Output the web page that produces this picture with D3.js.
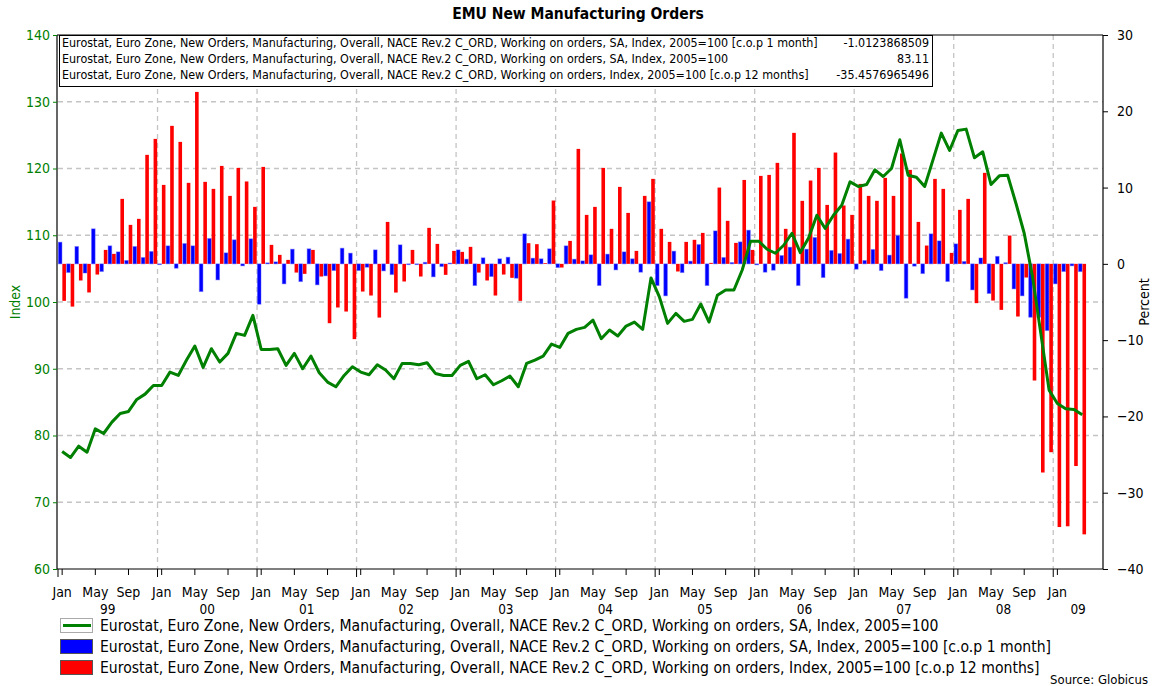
<!DOCTYPE html>
<html>
<head>
<meta charset="utf-8">
<script src="https://cdn.jsdelivr.net/npm/d3@7"></script>
<style>
  body { margin: 0; background: #fff; }
  svg { font-family: "DejaVu Sans Condensed", "DejaVu Sans", sans-serif; }
</style>
</head>
<body>
<svg id="chart" width="1156" height="686"></svg>
<script>
// ---- data (Jan 1999 .. Apr 2009) ----
const monthNames = ["Jan","Feb","Mar","Apr","May","Jun","Jul","Aug","Sep","Oct","Nov","Dec"];
const years = [1999,2000,2001,2002,2003,2004,2005,2006,2007,2008,2009];
const axisMonthCount = 126; // axis runs to Jun 2009
const labelMonths = ["Jan","May","Sep"];

// SA index, 2005=100
const indexSA = [
  77.6, 76.7, 78.4, 77.5, 81.0, 80.3, 82.0, 83.3, 83.6, 85.4, 86.2, 87.5,
  87.5, 89.5, 89.0, 91.3, 93.4, 90.2, 93.0, 91.0, 92.3, 95.3, 95.0, 98.0,
  92.9, 92.9, 93.0, 90.5, 92.3, 90.0, 91.9, 89.4, 88.0, 87.3, 89.0, 90.3,
  89.5, 89.1, 90.6, 89.8, 88.5, 90.8, 90.8, 90.6, 90.9, 89.3, 89.0, 89.0,
  90.5, 91.1, 88.5, 89.1, 87.6, 88.2, 88.9, 87.3, 90.8, 91.3, 91.9, 93.7,
  93.2, 95.3, 95.9, 96.2, 97.3, 94.5, 95.8, 94.9, 96.4, 97.0, 95.9, 103.6,
  100.8, 96.8, 98.3, 97.1, 97.4, 99.7, 97.0, 101.0, 101.8, 101.8, 104.8, 109.1,
  109.1, 107.9, 107.3, 108.5, 110.3, 107.4, 109.6, 113.0, 111.0, 113.0, 114.5, 118.0,
  117.3, 117.6, 119.8, 118.8, 120.0, 124.3, 119.0, 118.7, 117.3, 121.3, 125.3, 122.7,
  125.7, 125.9, 121.6, 122.5, 117.6, 118.9, 119.0, 114.8, 110.3, 103.8, 95.3, 86.8,
  84.8, 84.0, 83.9, 83.11
];

// SA index, change over 1 month (%)
const change1m = [
  2.84, -1.13, 2.27, -1.2, 4.59, -1.0, 2.36, 1.57, 0.44, 2.27, 0.83, 1.62,
  -0.1, 2.36, -0.57, 2.66, 2.36, -3.63, 3.32, -2.1, 1.44, 3.15, -0.26, 3.28,
  -5.29, 0.13, 0.26, -2.62, 1.92, -2.32, 1.97, -2.75, -1.57, -0.87, 2.05, 1.4,
  -0.87, -0.44, 1.83, -0.92, -1.4, 2.49, -0.1, -0.1, 0.2, -1.7, -0.35, 0.1,
  1.83, 0.61, -2.84, 0.79, -1.66, 0.66, 0.87, -1.88, 3.93, 0.74, 0.66, 1.97,
  -0.48, 2.36, 0.61, 0.39, 1.18, -2.84, 1.27, -0.79, 1.57, 0.66, -1.09, 8.13,
  -2.84, -4.19, 1.66, -1.14, 0.35, 2.53, -2.84, 4.32, 0.83, 0.17, 2.88, 4.41,
  -0.13, -1.09, -0.83, 1.09, 2.18, -2.84, 1.92, 3.45, -1.79, 1.75, 1.35, 3.23,
  -0.7, 0.44, 1.88, -0.87, 1.14, 3.71, -4.5, -0.3, -1.27, 3.93, 3.01, -2.31,
  2.62, 0.31, -3.41, 0.77, -3.88, 0.98, 0.15, -3.28, -4.19, -7.0, -7.0, -8.74,
  -2.62, -1.0, -0.26, -1.0123868509
];

// non-SA index, change over 12 months (%)
const change12m = [
  -4.85, -5.6, -2.18, -3.75, -1.4, 1.83, 1.31, 8.52, 5.11, 5.9, 14.29, 16.38,
  10.35, 18.09, 15.99, 10.62, 22.54, 10.75, 9.83, 12.84, 8.91, 12.58, 10.8, 7.47,
  12.71, 2.49, 1.18, 0.52, -1.14, -1.31, 1.83, -1.66, -7.78, -5.72, -6.25, -9.87,
  -3.63, -4.15, -7.04, 5.5, -3.76, -2.31, 1.83, -1.66, 4.72, 2.62, -1.44, 1.7,
  1.57, 2.23, -1.14, -2.18, -4.15, -1.4, -1.83, -4.85, 2.71, 2.58, 0.1, 8.3,
  -0.48, 3.01, 15.07, 6.42, 7.47, 12.58, 4.59, 10.09, 6.68, 1.7, 8.91, 11.14,
  4.59, 2.88, -1.0, 2.88, 3.15, 4.06, 0.13, 10.0, 5.64, 2.75, 11.0, 1.83,
  11.53, 11.66, 13.24, 4.59, 17.17, 8.26, 10.92, 12.58, 7.73, 14.59, 7.65, 6.42,
  10.48, 8.91, 8.26, 11.27, 8.91, 14.46, 12.32, 5.5, 2.4, 11.14, 9.83, 1.44,
  7.08, 8.52, -5.15, 11.93, -4.81, -6.03, 3.71, -6.9, -1.79, -15.29, -27.35, -24.69,
  -34.5, -34.4, -26.5, -35.4576965496
];

const seriesNames = [
  "Eurostat, Euro Zone, New Orders, Manufacturing, Overall, NACE Rev.2 C_ORD, Working on orders, SA, Index, 2005=100",
  "Eurostat, Euro Zone, New Orders, Manufacturing, Overall, NACE Rev.2 C_ORD, Working on orders, SA, Index, 2005=100 [c.o.p 1 month]",
  "Eurostat, Euro Zone, New Orders, Manufacturing, Overall, NACE Rev.2 C_ORD, Working on orders, Index, 2005=100 [c.o.p 12 months]"
];
const lastValues = ["-1.0123868509", "83.11", "-35.4576965496"];
const leftTicks = [60, 70, 80, 90, 100, 110, 120, 130, 140];
const rightTicks = [-40, -30, -20, -10, 0, 10, 20, 30];

const green = "#008000", blue = "#0000ff", red = "#ff0000";

// ---- build month keys ----
const months = [];
years.forEach(y => monthNames.forEach((m, j) => months.push({ key: y + "-" + j, year: y, name: m })));
const axisMonths = months.slice(0, axisMonthCount);
const dataMonths = months.slice(0, indexSA.length);

const svg = d3.select("#chart");
const plotLeft = 58, plotRight = 1103, plotTop = 35, plotBottom = 569;

const x = d3.scaleBand().domain(axisMonths.map(d => d.key)).range([plotLeft, plotRight]);
const cx = k => x(k) + x.bandwidth() / 2;
const yL = d3.scaleLinear().domain([60, 140]).range([plotBottom, plotTop]);
const yR = d3.scaleLinear().domain([-40, 30]).range([plotBottom, plotTop]);

// title
svg.append("text")
  .attr("x", 578).attr("y", 19)
  .attr("text-anchor", "middle")
  .style("font-size", "15.5px").style("font-weight", "bold")
  .text("EMU New Manufacturing Orders");

// grid
const grid = svg.append("g").attr("stroke", "#c4c4c4").attr("stroke-dasharray", "5,4").attr("stroke-width", 1.3);
leftTicks.slice(1, -1).forEach(t => {
  grid.append("line").attr("x1", plotLeft).attr("x2", plotRight).attr("y1", yL(t)).attr("y2", yL(t));
});
axisMonths.filter(d => d.name === "Jan" && d.year > years[0]).forEach(d => {
  grid.append("line").attr("x1", x(d.key)).attr("x2", x(d.key)).attr("y1", plotTop).attr("y2", plotBottom);
});

// bars
const bw = 3.6;
svg.append("g").selectAll("rect")
  .data(dataMonths)
  .join("rect")
  .attr("x", d => cx(d.key) - bw - 0.2)
  .attr("width", bw)
  .attr("y", (d, i) => Math.min(yR(change1m[i]), yR(0)))
  .attr("height", (d, i) => Math.abs(yR(change1m[i]) - yR(0)))
  .attr("fill", blue)
  .attr("stroke", "rgba(90,90,255,0.45)").attr("stroke-width", 1);

svg.append("g").selectAll("rect")
  .data(dataMonths)
  .join("rect")
  .attr("x", d => cx(d.key) + 0.2)
  .attr("width", bw)
  .attr("y", (d, i) => Math.min(yR(change12m[i]), yR(0)))
  .attr("height", (d, i) => Math.abs(yR(change12m[i]) - yR(0)))
  .attr("fill", red);

// line
const line = d3.line()
  .x((d, i) => cx(dataMonths[i].key))
  .y(d => yL(d));
svg.append("path")
  .datum(indexSA)
  .attr("d", line)
  .attr("fill", "none")
  .attr("stroke", green)
  .attr("stroke-width", 3)
  .attr("stroke-linejoin", "round");

// frame / axes
const axisG = svg.append("g").attr("stroke", "#000").attr("stroke-width", 1.2);
axisG.append("line").attr("x1", plotLeft - 1).attr("x2", plotRight).attr("y1", plotTop).attr("y2", plotTop);
axisG.append("line").attr("x1", plotLeft - 1).attr("x2", plotLeft - 1).attr("y1", plotTop).attr("y2", plotBottom);
axisG.append("line").attr("x1", plotRight).attr("x2", plotRight).attr("y1", plotTop).attr("y2", plotBottom);
axisG.append("line").attr("x1", plotLeft - 1).attr("x2", plotRight).attr("y1", plotBottom).attr("y2", plotBottom);

// left axis
const gl = svg.append("g").attr("transform", `translate(${plotLeft - 1},0)`)
  .call(d3.axisLeft(yL).tickValues(leftTicks).tickSize(4).tickPadding(3));
gl.select(".domain").remove();
gl.attr("font-family", null);
gl.selectAll("line").attr("stroke", green);
gl.selectAll("text").attr("fill", green).style("font-size", "14px");

svg.append("text")
  .attr("transform", `translate(20,${(plotTop + plotBottom) / 2}) rotate(-90)`)
  .attr("text-anchor", "middle")
  .attr("fill", green)
  .style("font-size", "14px")
  .text("Index");

// right axis
const gr = svg.append("g").attr("transform", `translate(${plotRight},0)`)
  .call(d3.axisRight(yR).tickValues(rightTicks).tickSize(5).tickPadding(9));
gr.select(".domain").remove();
gr.attr("font-family", null);
gr.selectAll("line").attr("stroke", "#000");
gr.selectAll("text").attr("fill", "#000").style("font-size", "14px");

svg.append("text")
  .attr("transform", `translate(1149,${(plotTop + plotBottom) / 2}) rotate(-90)`)
  .attr("text-anchor", "middle")
  .style("font-size", "14px")
  .text("Percent");

// bottom axis
const gb = svg.append("g").attr("transform", `translate(0,${plotBottom})`);
const labelled = dataMonths.filter(d => labelMonths.includes(d.name));
gb.selectAll("line.tick")
  .data(labelled)
  .join("line")
  .attr("class", "tick")
  .attr("x1", d => cx(d.key)).attr("x2", d => cx(d.key))
  .attr("y1", 0).attr("y2", 6)
  .attr("stroke", "#000");
gb.selectAll("line.ytick")
  .data(axisMonths.filter(d => d.name === "Jan"))
  .join("line")
  .attr("class", "ytick")
  .attr("x1", d => x(d.key)).attr("x2", d => x(d.key))
  .attr("y1", 0).attr("y2", 8)
  .attr("stroke", "#000");
gb.selectAll("text.m")
  .data(labelled)
  .join("text")
  .attr("class", "m")
  .attr("x", d => cx(d.key)).attr("y", 28)
  .attr("text-anchor", "middle")
  .style("font-size", "14px")
  .text(d => d.name);
years.forEach(yr => {
  const ms = axisMonths.filter(d => d.year === yr);
  const x0 = x(ms[0].key), x1 = x(ms[ms.length - 1].key) + x.bandwidth();
  gb.append("text")
    .attr("x", (x0 + x1) / 2).attr("y", 45)
    .attr("text-anchor", "middle")
    .style("font-size", "13.5px")
    .text(String(yr).slice(2));
});

// in-plot value box
const box = svg.append("g");
box.append("rect")
  .attr("x", 59.5).attr("y", plotTop + 0.5).attr("width", 873).attr("height", 51)
  .attr("fill", "#fff").attr("stroke", "#000").attr("stroke-width", 1);
const boxOrder = [1, 0, 2];
boxOrder.forEach((s, r) => {
  box.append("text")
    .attr("x", 62).attr("y", 47 + r * 16)
    .style("font-size", "12.4px")
    .text(seriesNames[s]);
  box.append("text")
    .attr("x", 929).attr("y", 47 + r * 16)
    .attr("text-anchor", "end")
    .style("font-size", "12.4px")
    .text(lastValues[r]);
});

// legend
const legend = svg.append("g");
const legendColors = [green, blue, red];
seriesNames.forEach((name, i) => {
  const yy = 618 + i * 21;
  if (i === 0) {
    legend.append("rect").attr("x", 60.5).attr("y", yy + 0.5).attr("width", 32).attr("height", 14)
      .attr("fill", "#fff").attr("stroke", "#aaa");
    legend.append("line").attr("x1", 63).attr("x2", 91).attr("y1", yy + 7.5).attr("y2", yy + 7.5)
      .attr("stroke", green).attr("stroke-width", 3);
  } else {
    legend.append("rect").attr("x", 60.5).attr("y", yy + 0.5).attr("width", 32).attr("height", 14)
      .attr("fill", legendColors[i]).attr("stroke", "#555");
  }
  legend.append("text")
    .attr("x", 100).attr("y", yy + 13)
    .style("font-size", "15.6px")
    .text(name);
});

svg.append("text")
  .attr("x", 1148).attr("y", 684)
  .attr("text-anchor", "end")
  .style("font-size", "13px")
  .text("Source: Globicus");
</script>
</body>
</html>
